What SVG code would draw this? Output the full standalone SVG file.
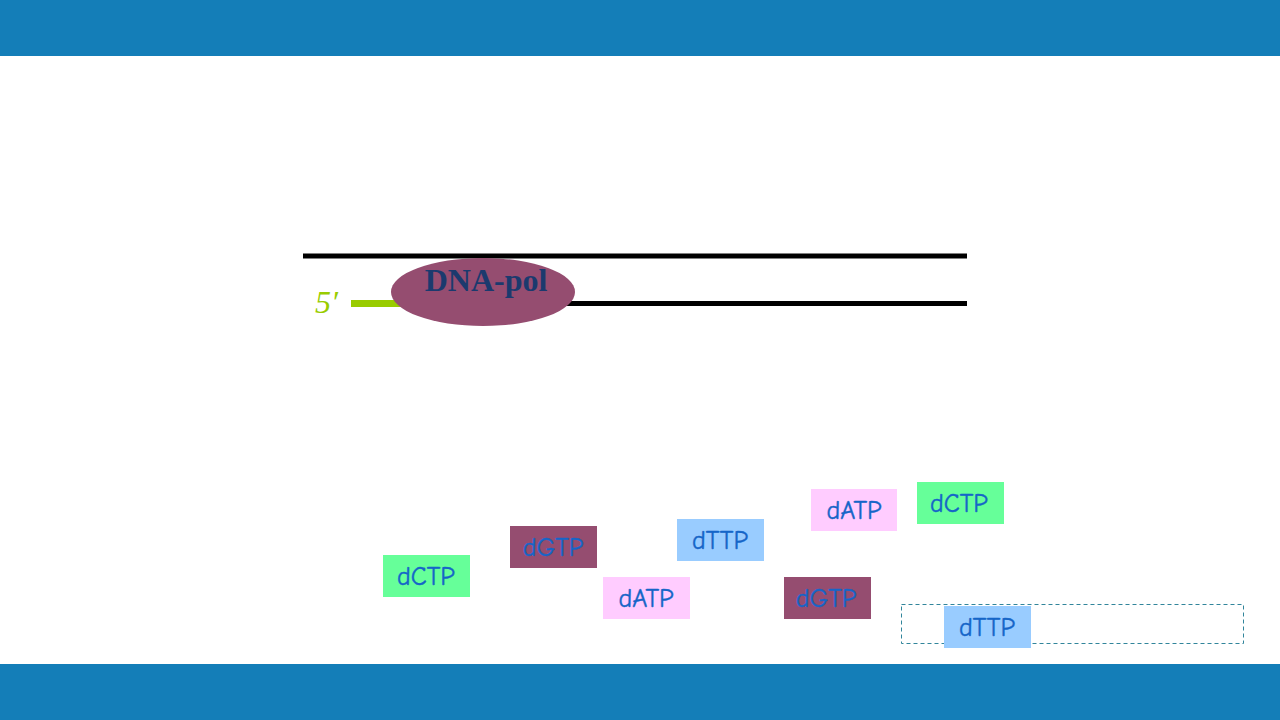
<svg xmlns="http://www.w3.org/2000/svg" width="1280" height="720" viewBox="0 0 1280 720">
<style>
.bar{fill:#147EB8}
.strand{stroke:#000;stroke-width:5}
.nt text{font-family:"Comic Neue","DejaVu Sans","Liberation Sans",sans-serif;font-size:26px;fill:#1565C8;text-anchor:middle;stroke:#1565C8;stroke-width:0.4}
.c{fill:#66FF99}.g{fill:#954D70}.t{fill:#99CCFF}.a{fill:#FFCCFF}
</style>
<rect width="1280" height="720" fill="#fff"/>
<rect class="bar" x="0" y="0" width="1280" height="56"/>
<rect class="bar" x="0" y="664" width="1280" height="56"/>
<g id="connectors">
<line class="strand" x1="303" y1="256" x2="967" y2="256"/>
<line class="strand" x1="400" y1="303.500" x2="967" y2="303.500"/>
<line x1="351" y1="303.500" x2="405" y2="303.500" stroke="#99CC00" stroke-width="7"/>
</g>
<g id="label5">
<text x="315" y="313" font-family="Liberation Serif,serif" font-style="italic" font-size="32" fill="#99CC00">5′</text>
</g>
<g id="dnapol">
<ellipse cx="483" cy="292" rx="92" ry="34" fill="#954D70"/>
<text x="486" y="291" font-family="Liberation Serif,serif" font-weight="bold" font-size="32" fill="#1B3A6E" text-anchor="middle">DNA-pol</text>
</g>
<rect id="slot" x="901.500" y="604.500" width="342" height="39" fill="none" stroke="#31859B" stroke-width="1" stroke-dasharray="4,3"/>
<g id="dCTP1" class="nt"><rect class="c" x="383" y="555" width="87" height="42"/><text x="426" y="585">dCTP</text></g>
<g id="dGTP1" class="nt"><rect class="g" x="510" y="526" width="87" height="42"/><text x="553" y="556">dGTP</text></g>
<g id="dTTP1" class="nt"><rect class="t" x="677" y="519" width="87" height="42"/><text x="720" y="549">dTTP</text></g>
<g id="dATP1" class="nt"><rect class="a" x="603" y="577" width="87" height="42"/><text x="646" y="607">dATP</text></g>
<g id="dATP2" class="nt"><rect class="a" x="811" y="489" width="86" height="42"/><text x="854" y="519">dATP</text></g>
<g id="dCTP2" class="nt"><rect class="c" x="917" y="482" width="87" height="42"/><text x="959" y="512">dCTP</text></g>
<g id="dGTP2" class="nt"><rect class="g" x="784" y="577" width="87" height="42"/><text x="826" y="607">dGTP</text></g>
<g id="dTTP2" class="nt"><rect class="t" x="944" y="606" width="87" height="42"/><text x="987" y="636">dTTP</text></g>
</svg>
